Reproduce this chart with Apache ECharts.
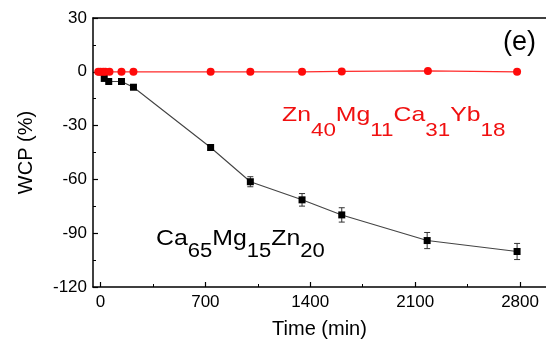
<!DOCTYPE html>
<html><head><meta charset="utf-8">
<script src="https://cdn.jsdelivr.net/npm/echarts@6/dist/echarts.min.js"></script>
<style>html,body{margin:0;padding:0;background:#fff;overflow:hidden}#c{width:546px;height:339px}</style>
</head><body><div id="c"></div>
<script>
var blackTime = [0, 25, 55, 140, 220, 735, 1000, 1345, 1610, 2180, 2780];
var blackWCP  = [0, -3.7, -5.4, -5.4, -8.6, -42.2, -61.3, -71.4, -79.8, -94.1, -100.2];
var blackErr  = [0, 0, 0, 0, 0, 1.5, 2.8, 3.5, 4, 4.5, 4.5];
var redTime = [-15, 0, 18, 33, 60, 140, 220, 735, 1000, 1345, 1610, 2185, 2780];
var redWCP  = [0, 0, 0, 0, 0, 0, 0, 0, 0, 0, 0.2, 0.5, 0];
var xTicks = [0, 700, 1400, 2100, 2800];
var xMinorTicks = [350, 1050, 1750, 2450];
var yTicks = [-120, -90, -60, -30, 0, 30];

var font = 'Liberation Sans, Arial, Helvetica, sans-serif';
var chart = echarts.init(document.getElementById('c'));
var blackPts = blackTime.map(function(t,i){return [t, blackWCP[i]];});
var redPts = redTime.map(function(t,i){return [t, redWCP[i]];});
var errData = blackTime.map(function(t,i){return [t, blackWCP[i]-blackErr[i], blackWCP[i]+blackErr[i]];}).filter(function(d,i){return blackErr[i]>0;});
var XMIN = -50, XMAX = 2973;

chart.setOption({
  animation: false,
  grid: {left: 93, top: 18, right: 0, bottom: 52, show: false, outerBoundsMode: 'none', containLabel: false},
  xAxis: [{
    type: 'value', min: XMIN, max: XMAX, position: 'bottom',
    name: 'Time (min)', nameLocation: 'middle', nameGap: 32,
    nameTextStyle: {fontFamily: font, fontSize: 20, color: '#000'},
    axisLine: {show: true, onZero: false, lineStyle: {color: '#000', width: 1.5}},
    axisTick: {show: true, inside: true, length: 5, lineStyle: {color: '#000', width: 1.2}, customValues: xTicks},
    axisLabel: {fontFamily: font, fontSize: 17, color: '#000', margin: 7, customValues: xTicks,
      formatter: function(v){return String(v);}},
    splitLine: {show: false}
  }, {
    type: 'value', min: XMIN, max: XMAX, position: 'bottom', gridIndex: 0,
    axisLine: {show: false, onZero: false},
    axisTick: {show: true, inside: true, length: 3, lineStyle: {color: '#000', width: 1}, customValues: xMinorTicks},
    axisLabel: {show: false, customValues: xMinorTicks},
    splitLine: {show: false}
  }, {
    type: 'value', min: XMIN, max: XMAX, position: 'top', gridIndex: 0,
    axisLine: {show: true, onZero: false, lineStyle: {color: '#000', width: 1.5}},
    axisTick: {show: false}, axisLabel: {show: false}, splitLine: {show: false}
  }],
  yAxis: {
    type: 'value', min: -120, max: 30, interval: 30,
    name: 'WCP (%)', nameLocation: 'middle', nameGap: 57, nameRotate: 90,
    nameTextStyle: {fontFamily: font, fontSize: 20, color: '#000'},
    axisLine: {show: true, onZero: false, lineStyle: {color: '#000', width: 1.5}},
    axisTick: {show: true, inside: true, length: 5, lineStyle: {color: '#000', width: 1.2}},
    minorTick: {show: true, splitNumber: 2, length: 3, lineStyle: {color: '#000', width: 1}},
    axisLabel: {fontFamily: font, fontSize: 17, color: '#000', margin: 6},
    splitLine: {show: false}
  },
  series: [{
    type: 'custom', data: errData, z: 4,
    renderItem: function(params, api){
      var x = api.value(0);
      var lo = api.coord([x, api.value(1)]);
      var hi = api.coord([x, api.value(2)]);
      var w = 3;
      return {type: 'group', children: [
        {type: 'line', shape: {x1: lo[0], y1: lo[1], x2: hi[0], y2: hi[1]}, style: {stroke: '#333', lineWidth: 1}},
        {type: 'line', shape: {x1: lo[0]-w, y1: lo[1], x2: lo[0]+w, y2: lo[1]}, style: {stroke: '#333', lineWidth: 1}},
        {type: 'line', shape: {x1: hi[0]-w, y1: hi[1], x2: hi[0]+w, y2: hi[1]}, style: {stroke: '#333', lineWidth: 1}}
      ]};
    }
  }, {
    type: 'line', data: blackPts, symbol: 'rect', symbolSize: 7,
    itemStyle: {color: '#000'}, lineStyle: {color: '#444', width: 1.1}, z: 5
  }, {
    type: 'line', data: redPts, symbol: 'circle', symbolSize: 8,
    itemStyle: {color: '#ff0a0a'}, lineStyle: {color: '#ff2a2a', width: 1.2}, z: 6
  }],
  graphic: [
    {type: 'text', left: 503, top: 29, style: {text: '(e)', fontFamily: font, fontSize: 27, fill: '#000'}},
    {type: 'text', left: 282, top: 105, scaleX: 1.18, style: {
      text: '{m|Zn}{s|40}{m|Mg}{s|11}{m|Ca}{s|31}{m|Yb}{s|18}',
      fill: '#f01010', fontFamily: font,
      rich: {
        m: {fontSize: 21, lineHeight: 22, verticalAlign: 'top', fill: '#f01010', fontFamily: font},
        s: {fontSize: 19, lineHeight: 35, verticalAlign: 'bottom', fill: '#f01010', fontFamily: font}
      }}},
    {type: 'text', left: 156, top: 228, scaleX: 1.13, style: {
      text: '{m|Ca}{s|65}{m|Mg}{s|15}{m|Zn}{s|20}',
      fill: '#000', fontFamily: font,
      rich: {
        m: {fontSize: 22, lineHeight: 22, verticalAlign: 'top', fill: '#000', fontFamily: font},
        s: {fontSize: 19.5, lineHeight: 34, verticalAlign: 'bottom', fill: '#000', fontFamily: font}
      }}}
  ]
});
</script></body></html>
